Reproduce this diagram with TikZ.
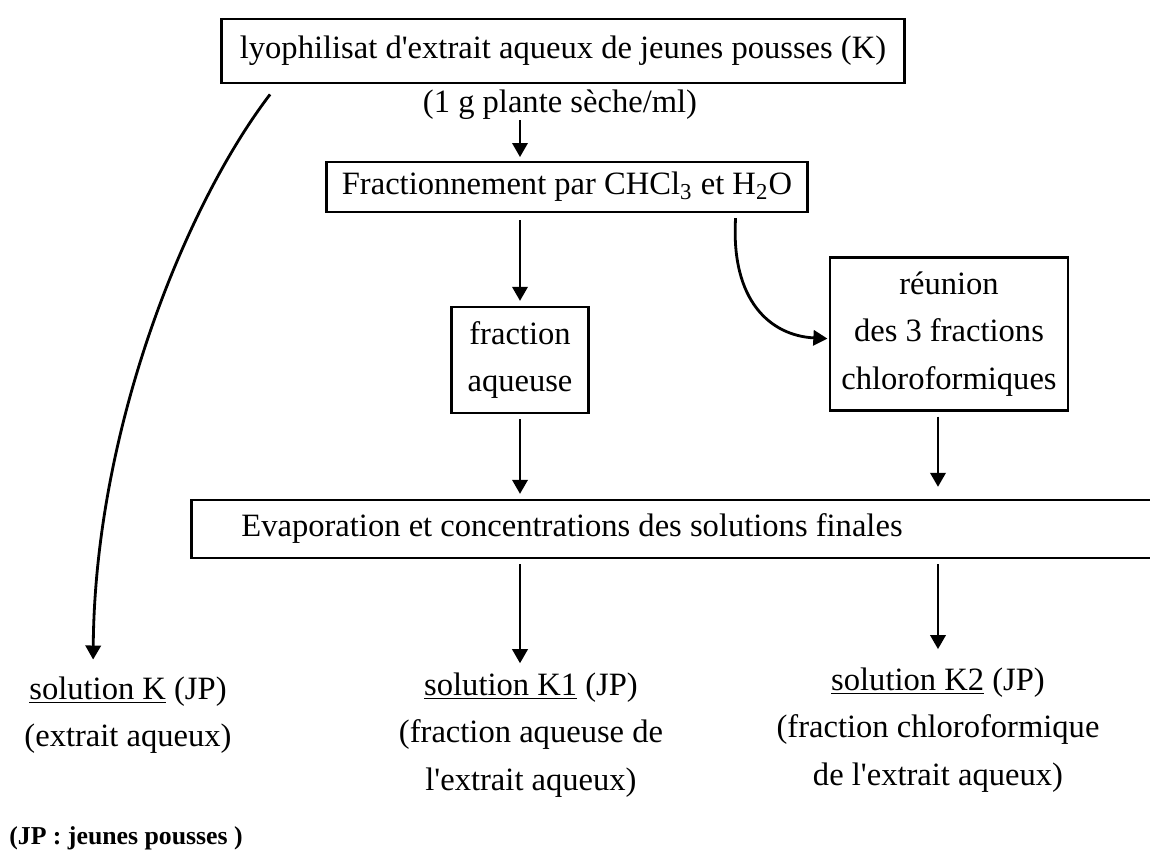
\documentclass[tikz,border=0pt]{standalone}
\usepackage{fontspec}
\setmainfont{Liberation Serif}[Ligatures=TeXOff]
\usetikzlibrary{arrows.meta,positioning}
\newcommand{\extfont}{\fontsize{13.9pt}{20.3pt}\selectfont}
\tikzset{
  stepbox/.style={draw, line width=1.2pt, font=\extfont, align=center, inner sep=0pt},
  soltext/.style={font=\extfont, align=center, inner sep=0pt},
  notetext/.style={font=\fontsize{11pt}{13pt}\selectfont\bfseries, inner sep=0pt},
  flow/.style={-{Triangle[length=6pt,width=6.5pt]}, line width=1.2pt}
}
\begin{document}
\begin{tikzpicture}[x=0.015cm, y=-0.015cm]
  \useasboundingbox (0,0) rectangle (1150,852);
  \node[stepbox, minimum width=10.245cm, minimum height=0.96cm] (lyo) at (563,51)
    {lyophilisat d'extrait aqueux de jeunes pousses (K)};
  \node[soltext] (dose) at (560,105) {(1 g plante sèche/ml)};
  \node[stepbox, minimum width=7.215cm, minimum height=0.75cm] (fract) at (567,187)
    {Fractionnement par CHCl\textsubscript{3} et H\textsubscript{2}O};
  \node[stepbox, minimum width=2.055cm, minimum height=1.59cm] (aq) at (520,360)
    {fraction\\aqueuse};
  \node[stepbox, minimum width=3.57cm, minimum height=2.295cm] (reun) at (949,334)
    {réunion\\des 3 fractions\\chloroformiques};
  \node[stepbox, anchor=west, minimum height=0.87cm, text width=14.2cm, inner xsep=0.75cm, align=flush left] (evap) at (190,529)
    {Evaporation et concentrations des solutions finales};
  \node[soltext] (solk) at (128,715) {\underline{solution K} (JP)\\(extrait aqueux)};
  \node[soltext] (solk1) at (531,735) {\underline{solution K1} (JP)\\(fraction aqueuse de\\l'extrait aqueux)};
  \node[soltext] (solk2) at (938,730) {\underline{solution K2} (JP)\\(fraction chloroformique\\de l'extrait aqueux)};
  \node[notetext] (note) at (126,838) {(JP : jeunes pousses )};

  \draw[flow, shorten >=1.5pt] (dose.south -| aq) -- (fract.north -| aq);
  \draw[flow, shorten <=3pt, shorten >=2pt] (fract.south -| aq) -- (aq.north);
  \draw[flow, shorten >=0.5pt] ([xshift=-1.1cm, yshift=-0.07cm]fract.south east)
    .. controls +(-5,83) and +(-58,-3) .. ([yshift=-0.07cm]reun.west);
  \draw[flow, shorten <=2pt, shorten >=2pt] (aq.south) -- (evap.north -| aq);
  \draw[flow, shorten <=2pt, shorten >=5pt] (reun.south -| solk2) -- (evap.north -| solk2);
  \draw[flow, shorten <=2pt, shorten >=3.8pt] (evap.south -| aq) -- (solk1.north -| aq);
  \draw[flow, shorten <=2pt, shorten >=7.7pt] (evap.south -| solk2) -- (solk2.north);
  \draw[flow, shorten >=7pt] ([xshift=0.75cm, yshift=-0.15cm]lyo.south west)
    .. controls +(-82,107) and +(2,-251) .. ([xshift=-0.525cm]solk.north);
\end{tikzpicture}
\end{document}
